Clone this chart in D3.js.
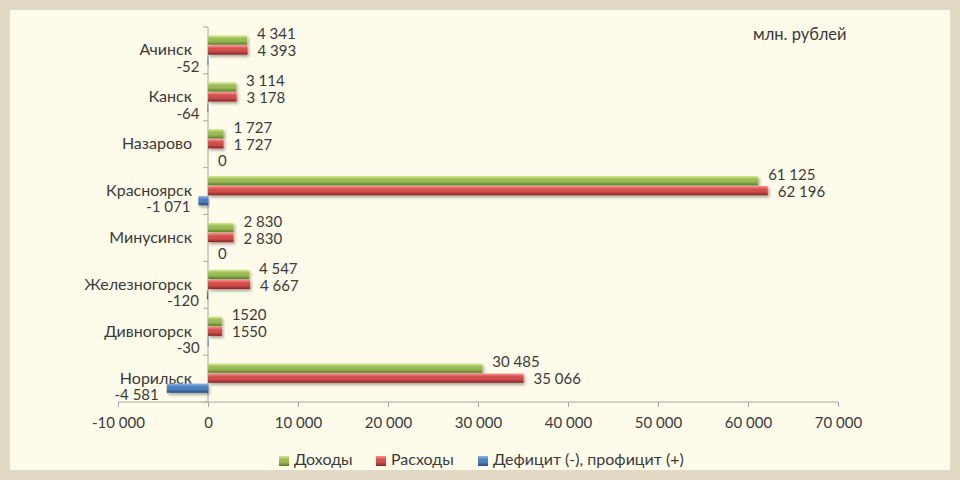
<!DOCTYPE html>
<html><head><meta charset="utf-8">
<script src="https://cdn.jsdelivr.net/npm/d3@7"></script>
<style>
html,body{margin:0;padding:0;background:#e1d9c3;}
svg{display:block;font-family:Lato,"Open Sans",sans-serif;}
</style></head>
<body>
<svg id="chart" width="960" height="480"></svg>
<script>
const cities = ["Ачинск","Канск","Назарово","Красноярск","Минусинск","Железногорск","Дивногорск","Норильск"];
const income = [4341,3114,1727,61125,2830,4547,1520,30485];
const expense = [4393,3178,1727,62196,2830,4667,1550,35066];
const balance = [-52,-64,0,-1071,0,-120,-30,-4581];
const seriesNames = ["Доходы","Расходы","Дефицит (-), профицит (+)"];
const xTicks = [-10000,0,10000,20000,30000,40000,50000,60000,70000];
const noGroupCities = ["Дивногорск"];
const unitLabel = "млн. рублей";

const seriesData = [income, expense, balance];
const colors = [
  {light:"#d4ea8c", mid:"#9bbb59", dark:"#5f7d24"},
  {light:"#ff8f8c", mid:"#d0504d", dark:"#8a2523"},
  {light:"#8fb6e6", mid:"#4f81bd", dark:"#234f86"}
];
const textColor = "#3a3a3a";

const svg = d3.select("#chart");
const defs = svg.append("defs");
colors.forEach((c,i)=>{
  const g = defs.append("linearGradient").attr("id","g"+i).attr("x1",0).attr("y1",0).attr("x2",0).attr("y2",1);
  g.append("stop").attr("offset","0%").attr("stop-color",c.light);
  g.append("stop").attr("offset","35%").attr("stop-color",c.mid);
  g.append("stop").attr("offset","60%").attr("stop-color",c.mid);
  g.append("stop").attr("offset","100%").attr("stop-color",c.dark);
});
const f = defs.append("filter").attr("id","sh").attr("x","-20%").attr("y","-50%").attr("width","140%").attr("height","250%");
f.append("feDropShadow").attr("dx",1.5).attr("dy",2).attr("stdDeviation",1.5).attr("flood-color","#000").attr("flood-opacity",0.35);

// panel
svg.append("rect").attr("x",10).attr("y",10).attr("width",940).attr("height",460).attr("fill","#fffbea");

const x = d3.scaleLinear().domain([-10000,70000]).range([118,838]);
const y = d3.scaleBand().domain(cities).range([27,402]).paddingInner(0).paddingOuter(0);
const yi = d3.scaleBand().domain([0,1,2]).range([0,y.bandwidth()]).paddingInner(0).paddingOuter(0.84);

const loc = d3.formatLocale({decimal:",", thousands:"\u00a0", grouping:[3], currency:["",""], minus:"-"});
const fmt = loc.format(",d");
const fmtPlain = loc.format("d");

// x axis
const xAxis = d3.axisBottom(x).tickValues(xTicks).tickFormat(fmt).tickSize(5).tickPadding(10);
const gx = svg.append("g").attr("transform","translate(0,402)").call(xAxis);
gx.select(".domain").attr("stroke","#a6a6a6").attr("d","M118,0H838");
gx.selectAll(".tick line").attr("stroke","#a6a6a6");
gx.selectAll(".tick text").attr("fill",textColor).attr("font-size",15).attr("font-family","Lato");

// y axis at x=0
const gy = svg.append("g").attr("transform",`translate(${x(0)},0)`);
gy.append("line").attr("x1",0).attr("x2",0).attr("y1",27).attr("y2",402).attr("stroke","#a6a6a6");
const bounds = cities.map(c=>y(c)).concat([y(cities[cities.length-1])+y.bandwidth()]);
gy.selectAll("line.tk").data(bounds).join("line").attr("class","tk")
  .attr("x1",-5).attr("x2",0).attr("y1",d=>d).attr("y2",d=>d).attr("stroke","#a6a6a6");

// category labels
svg.append("g").selectAll("text").data(cities).join("text")
  .attr("x",192).attr("y",d=>y(d)+y.bandwidth()/2+1).attr("text-anchor","end")
  .attr("dominant-baseline","middle").attr("fill",textColor).attr("font-size",16).text(d=>d);

// bars
const barG = svg.append("g");
seriesData.forEach((vals,si)=>{
  const h = yi.bandwidth()-0.8;
  barG.append("g").selectAll("rect").data(vals).join("rect")
    .attr("x",d=>Math.min(x(0),x(d)))
    .attr("y",(d,i)=>y(cities[i])+yi(si))
    .attr("width",d=>Math.max(Math.abs(x(d)-x(0)), 0.8))
    .attr("height",h)
    .attr("fill",`url(#g${si})`)
    .attr("filter","url(#sh)")
    .style("display",d=>d===0?"none":null);
});

// value labels
const labOff = [-5, 2, 7.5];
seriesData.forEach((vals,si)=>{
  svg.append("g").selectAll("text").data(vals).join("text")
    .attr("x",d=> d<0 ? x(d)-8 : x(d)+10)
    .attr("text-anchor",d=> d<0 ? "end" : "start")
    .attr("y",(d,i)=>y(cities[i])+yi(si)+yi.bandwidth()/2+labOff[si])
    .attr("dominant-baseline","middle")
    .attr("fill",textColor).attr("font-size",15)
    .text((d,i)=> noGroupCities.includes(cities[i]) ? fmtPlain(d) : fmt(d));
});

// unit label
svg.append("text").attr("x",753).attr("y",36).attr("dominant-baseline","middle")
  .attr("fill",textColor).attr("font-size",16.5).text(unitLabel);

// legend
const legX = [279, 376, 478];
const lg = svg.append("g");
seriesNames.forEach((n,i)=>{
  lg.append("rect").attr("x",legX[i]).attr("y",456).attr("width",10).attr("height",10).attr("fill",`url(#g${i})`);
  lg.append("text").attr("x",legX[i]+15).attr("y",461).attr("dominant-baseline","middle")
    .attr("fill",textColor).attr("font-size",16).text(n);
});
</script>
</body></html>
